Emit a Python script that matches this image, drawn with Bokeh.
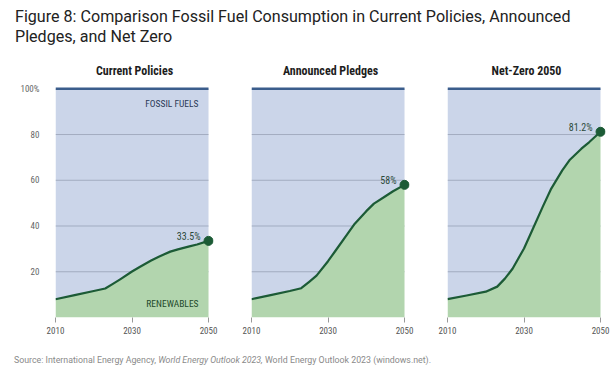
from bokeh.plotting import figure
from bokeh.models import Range1d, Div, FixedTicker
from bokeh.layouts import column, row
from bokeh.core.properties import value
from bokeh.embed import file_html
from bokeh.resources import INLINE

# ---- data (share of renewables in consumption, %) ----
years = [2010, 2015, 2020, 2023, 2025, 2027, 2030, 2032, 2035, 2037, 2040, 2042, 2045, 2047, 2050]
current_policies = [8, 9.8, 11.6, 12.7, 14.7, 16.8, 20.1, 22.1, 24.9, 26.6, 28.8, 29.8, 31.1, 31.9, 33.5]
announced_pledges = [8, 9.8, 11.6, 12.8, 15.5, 18.3, 24.6, 29.3, 36.3, 41.0, 46.5, 49.8, 53.0, 55.2, 58]
net_zero_2050 = [8, 9.6, 11.3, 13.5, 17.0, 21.3, 30.2, 37.6, 48.8, 56.0, 64.3, 69.0, 73.8, 76.6, 81.2]
panel_titles = ["Current Policies", "Announced Pledges", "Net-Zero 2050"]
x_ticks = [2010, 2030, 2050]
y_ticks = [20, 40, 60, 80, 100]
y_tick_labels = ["20", "40", "60", "80", "100%"]
grid_levels = [20, 40, 60, 80]
total = 100
series = [current_policies, announced_pledges, net_zero_2050]

# ---- style ----
COND = "'Liberation Sans Narrow', 'Roboto Condensed', 'DejaVu Sans Condensed', sans-serif"
BLUE_FILL = "#cbd5e9"
GREEN_FILL = "#b2d5ae"
GREEN_LINE = "#1c5b36"
TOP_LINE = "#3b5d8c"
GRID = "#98a2b6"

FRAME_W, FRAME_H = 158, 231
TOP, BOTTOM = 36, 28
borders = [(55, 6), (32, 6), (32, 5)]


def make_panel(i):
    vals = series[i]
    left, right = borders[i]
    p = figure(frame_width=FRAME_W, frame_height=FRAME_H,
               x_range=Range1d(years[0], years[-1] + 1.3),
               y_range=Range1d(0, total + 1),
               output_backend="svg", toolbar_location=None,
               min_border_left=left, min_border_right=right,
               min_border_top=TOP, min_border_bottom=BOTTOM,
               background_fill_color="white", border_fill_color="white",
               outline_line_color=None)
    p.title.text = panel_titles[i]
    p.title.align = "center"
    p.title.text_font = COND
    p.title.text_font_size = "12px"
    p.title.text_font_style = "bold"
    p.title.text_color = "#1d1d1d"
    p.title.standoff = 17

    p.xgrid.visible = False
    p.ygrid.visible = False

    # fossil area (blue), gridlines, renewables (green)
    p.varea(x=years, y1=vals, y2=[total] * len(years), fill_color=BLUE_FILL)
    p.segment(x0=years[0], x1=years[-1], y0=grid_levels, y1=grid_levels,
              line_color=GRID, line_width=0.8)
    p.varea(x=years, y1=[0] * len(years), y2=vals, fill_color=GREEN_FILL)
    p.line(x=years, y=vals, line_color=GREEN_LINE, line_width=2.2, line_join="round")
    p.line(x=[years[0], years[-1]], y=[total, total], line_color=TOP_LINE, line_width=2.5)
    p.scatter(x=[years[-1]], y=[vals[-1]], size=9, color=GREEN_LINE)
    p.text(x=[years[-1]], y=[vals[-1]], text=[f"{vals[-1]:g}%"],
           x_offset=-8, y_offset=-4, text_align="right", text_baseline="middle",
           text_font=value(COND), text_font_size="10px", text_color="#2d4a3b")

    if i == 0:
        p.text(x=[years[-1]], y=[total], text=["FOSSIL FUELS"], x_offset=-10, y_offset=15,
               text_align="right", text_baseline="middle", text_font=value(COND),
               text_font_size="9.5px", text_color="#2b3a57")
        p.text(x=[years[-1]], y=[0], text=["RENEWABLES"], x_offset=-10, y_offset=-14,
               text_align="right", text_baseline="middle", text_font=value(COND),
               text_font_size="9.5px", text_color="#1f4a2c")

    # x axis
    p.xaxis.ticker = FixedTicker(ticks=x_ticks)
    p.xaxis.axis_line_color = None
    p.xaxis.major_tick_in = 0
    p.xaxis.major_tick_out = 5
    p.xaxis.major_tick_line_color = "#999999"
    p.xaxis.minor_tick_line_color = None
    p.xaxis.major_label_standoff = 4
    p.xaxis.major_label_text_font = COND
    p.xaxis.major_label_text_font_size = "9px"
    p.xaxis.major_label_text_color = "#555555"

    # y axis
    if i == 0:
        p.yaxis.ticker = FixedTicker(ticks=y_ticks)
        p.yaxis.major_label_overrides = dict(zip(y_ticks, y_tick_labels))
        p.yaxis.axis_line_color = None
        p.yaxis.major_tick_line_color = None
        p.yaxis.minor_tick_line_color = None
        p.yaxis.major_label_standoff = 10
        p.yaxis.major_label_text_font = COND
        p.yaxis.major_label_text_font_size = "9px"
        p.yaxis.major_label_text_color = "#666666"
    else:
        p.yaxis.visible = False
    return p


panels = [make_panel(i) for i in range(3)]

title = Div(
    text='<div style="font-family: Roboto, sans-serif; font-size: 16.1px; line-height: 20px; '
         'color: #222222; padding: 7px 0 0 15px;">'
         'Figure 8: Comparison Fossil Fuel Consumption in Current Policies, Announced<br>'
         'Pledges, and Net Zero</div>',
    width=610, height=50, margin=(0, 0, 0, 0))

source = Div(
    text='<div style="font-family: Roboto, sans-serif; font-size: 8.8px; line-height: 12px; '
         'color: #8a8a8a; padding: 9px 0 0 14px;">'
         'Source: International Energy Agency, <i>World Energy Outlook 2023,</i> '
         'World Energy Outlook 2023 (windows.net).</div>',
    width=610, height=30, margin=(0, 0, 0, 0))

layout = column(title, row(*panels, spacing=0), source, spacing=0)

with open("out.html", "w") as f:
    f.write(file_html(layout, INLINE))
